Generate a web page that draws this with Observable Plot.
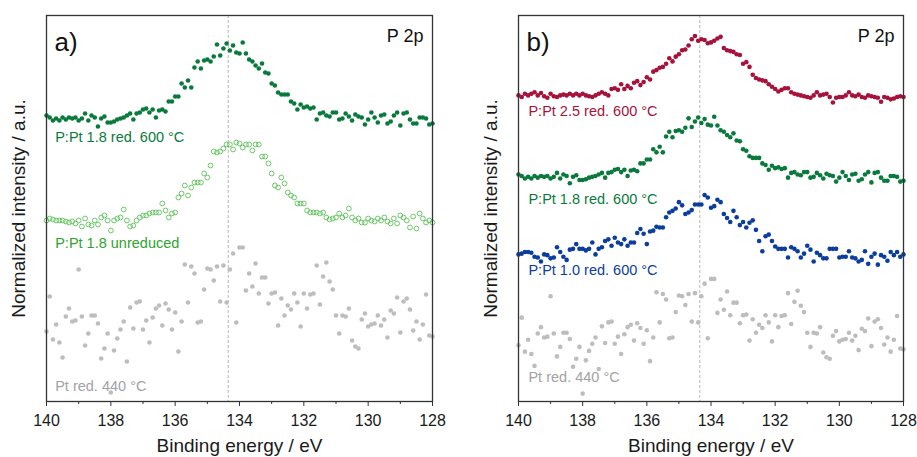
<!DOCTYPE html>
<html>
<head>
<meta charset="utf-8">
<script src="https://cdn.jsdelivr.net/npm/d3@7"></script>
<script src="https://cdn.jsdelivr.net/npm/@observablehq/plot@0.6"></script>
<style>
  html, body { margin: 0; padding: 0; background: #fff; }
  #chart { display: flex; width: 917px; height: 457px; }
</style>
</head>
<body>
<div id="chart"></div>
<script>
// Energy grid of the spectra (eV), 0.1 eV steps from 140 eV downwards
const energyStart = 140;
const energyStep = 0.1;

// Normalized intensities (a.u., offset per spectrum)
const pPt18Red600 = [286,284,281,283,281,284,282,284,283,284,281,283,288,281,286,284,275,283,285,279,
  279,280,282,283,284,286,288,282,288,289,292,293,289,292,284,291,292,290,300,300,
  305,305,318,314,321,314,334,340,333,341,342,340,345,357,346,353,358,351,356,349,
  348,359,348,342,340,336,333,338,329,328,318,316,309,307,307,307,300,298,292,297,
  294,295,293,294,282,288,289,286,285,289,289,282,283,288,285,281,287,285,284,277,
  282,289,284,279,286,287,278,280,286,289,276,288,289,282,278,278,284,284,283,277,278];

const pPt18Unreduced = [181,183,182,181,181,181,180,179,180,178,181,175,183,177,176,181,177,184,186,181,
  171,181,183,184,192,181,175,176,181,184,186,186,188,189,189,189,198,191,184,188,
  189,204,208,216,206,214,219,219,219,228,224,236,250,249,250,253,257,257,252,259,
  258,254,257,257,251,257,257,245,245,238,228,216,214,224,218,209,206,204,198,198,
  198,191,189,189,189,188,189,184,182,183,184,188,184,186,193,184,181,183,179,179,
  183,181,180,183,181,184,180,178,183,178,186,184,181,174,185,173,188,183,179,181,179];

const ptRed440 = [70,105,62,77,59,44,85,93,80,81,132,85,56,68,86,86,78,43,53,68,
  9,51,63,72,80,40,94,73,99,100,72,81,59,84,93,96,76,98,92,72,
  89,50,80,137,99,135,128,79,80,112,133,132,121,135,100,136,99,132,148,79,
  154,154,111,128,115,138,108,124,124,98,108,109,76,103,86,96,92,108,99,75,
  108,93,107,108,136,97,125,139,120,112,86,68,86,85,93,61,55,53,82,88,
  75,77,78,86,76,82,64,91,88,104,69,100,103,92,71,80,62,77,107,66,65];

const pPt25Red600 = [386,384,388,386,388,390,386,389,385,383,388,385,384,386,387,386,388,386,388,386,
  388,386,385,384,386,388,390,388,386,394,395,393,400,394,398,395,402,404,399,403,
  409,406,416,418,421,422,426,433,429,435,438,443,444,449,457,461,455,457,456,452,
  453,455,458,460,446,443,442,441,438,437,426,428,422,412,408,406,405,404,400,397,
  394,391,393,395,395,390,388,387,386,385,384,383,386,390,386,387,388,384,377,383,
  384,384,386,390,386,385,387,384,383,386,385,384,383,378,384,383,381,382,384,385,384];

const pPt10Red600 = [185,186,188,188,187,182,181,176,185,184,180,181,194,188,182,178,191,192,198,192,
  192,190,192,200,185,192,194,202,204,196,206,200,198,204,196,200,200,212,217,211,
  198,214,215,220,219,219,232,238,240,243,251,247,236,238,241,248,248,248,260,257,
  244,246,254,251,236,231,226,240,232,222,226,219,225,228,216,202,189,208,210,202,
  195,192,192,192,181,194,192,189,181,186,196,191,176,187,184,180,180,192,192,192,
  181,182,182,189,181,180,176,178,189,173,182,186,172,184,182,177,188,184,188,182,185];

// Labels
const xTicksMajor = [140,138,136,134,132,130,128];
const xTicksMinor = [139,137,135,133,131,129];
const peakPosition = 134.35;
const xTitle = "Binding energy / eV";
const yTitle = "Normalized intensity / a.u.";
const panelLetters = ["a)", "b)"];
const regionLabel = "P 2p";

const colors = {
  green: "#0a7a3c",
  unreduced: "#5cc258",
  unreducedText: "#2ea42e",
  red: "#a6123c",
  blue: "#0b3e9c",
  gray: "#bdbdbd",
  grayText: "#a3a3a3"
};

function series(values) {
  return values.map((v, i) => ({E: +(energyStart - i * energyStep).toFixed(2), v}));
}

const fontFamily = "'Liberation Sans', Arial, Helvetica, sans-serif";

function panel({width, marginLeft, marginRight, yDomain, dots, labels, letter}) {
  return Plot.plot({
    width, height: 457,
    marginLeft, marginRight, marginTop: 15, marginBottom: 56,
    x: {domain: [140, 128]},
    y: {domain: yDomain, axis: null},
    style: {fontFamily, fontSize: "16px", background: "white", color: "#1a1a1a", overflow: "visible"},
    marks: [
      Plot.ruleX([peakPosition], {stroke: "#b0b0b0", strokeWidth: 0.9, strokeDasharray: "3,2"}),
      ...dots,
      ...labels.map(l => Plot.text([l], {x: "E", y: "v", text: "text", fill: l.color, fontSize: 14.5, textAnchor: "start", lineAnchor: "middle"})),
      Plot.frame({stroke: "#333", strokeWidth: 1.3}),
      Plot.axisX({ticks: xTicksMajor, tickSize: 5, tickPadding: 8, label: null, stroke: "#333", fill: "#1a1a1a", fontSize: 16}),
      Plot.axisX({ticks: xTicksMinor, tickSize: 3, tickFormat: () => "", label: null, stroke: "#333"}),
      Plot.text([xTitle], {frameAnchor: "bottom", dy: 44, text: d => d, fontSize: 19, fill: "#1a1a1a", textAnchor: "middle", lineAnchor: "middle"}),
      Plot.text([yTitle], {frameAnchor: "left", dx: -28, rotate: -90, text: d => d, fontSize: 19, fill: "#1a1a1a", textAnchor: "middle", lineAnchor: "middle"}),
      Plot.text([letter], {frameAnchor: "top-left", dx: 8, dy: 17, text: d => d, fontSize: 26, fill: "#111", textAnchor: "start", lineAnchor: "top"}),
      Plot.text([regionLabel], {frameAnchor: "top-right", dx: -9, dy: 14, text: d => d, fontSize: 18, fill: "#111", textAnchor: "end", lineAnchor: "top"})
    ]
  });
}

const filled = (values, color) => Plot.dot(series(values), {x: "E", y: "v", r: 2.3, fill: color});

const panelA = panel({
  width: 458, marginLeft: 46, marginRight: 26,
  yDomain: [0, 386],
  dots: [
    filled(ptRed440, colors.gray),
    Plot.dot(series(pPt18Unreduced), {x: "E", y: "v", r: 2.4, stroke: colors.unreduced, strokeWidth: 0.9, fill: "none"}),
    filled(pPt18Red600, colors.green)
  ],
  labels: [
    {E: 139.73, v: 264, text: "P:Pt 1.8 red. 600 °C", color: colors.green},
    {E: 139.73, v: 158, text: "P:Pt 1.8 unreduced", color: colors.unreducedText},
    {E: 139.73, v: 15, text: "Pt red. 440 °C", color: colors.grayText}
  ],
  letter: panelLetters[0]
});

const panelB = panel({
  width: 459, marginLeft: 60, marginRight: 14,
  yDomain: [-1, 487],
  dots: [
    filled(ptRed440, colors.gray),
    filled(pPt10Red600, colors.blue),
    filled(pPt18Red600, colors.green),
    filled(pPt25Red600, colors.red)
  ],
  labels: [
    {E: 139.69, v: 366, text: "P:Pt 2.5 red. 600 °C", color: colors.red},
    {E: 139.69, v: 254, text: "P:Pt 1.8 red. 600 °C", color: colors.green},
    {E: 139.69, v: 165, text: "P:Pt 1.0 red. 600 °C", color: colors.blue},
    {E: 139.69, v: 30, text: "Pt red. 440 °C", color: colors.grayText}
  ],
  letter: panelLetters[1]
});

const chart = document.getElementById("chart");
chart.appendChild(panelA);
chart.appendChild(panelB);
</script>
</body>
</html>
